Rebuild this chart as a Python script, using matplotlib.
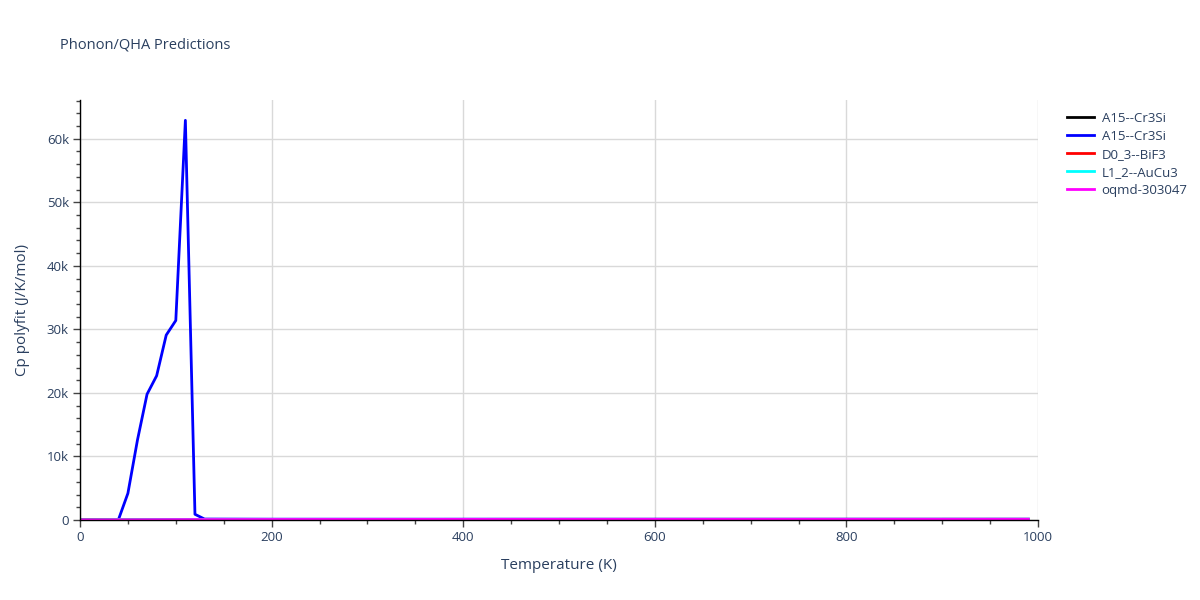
import matplotlib
matplotlib.use('Agg')
import matplotlib.pyplot as plt
from matplotlib.ticker import MultipleLocator, FuncFormatter

# temperatures (K) and Cp polyfit values (J/K/mol)
temp_coarse = [0, 50, 100, 150, 200, 300, 400, 500, 600, 700, 800, 900, 990]
cp_cr3si_black = [0, 20, 55, 75, 85, 94, 97, 99, 100, 101, 102, 103, 104]
cp_bif3 = [0, 30, 62, 78, 86, 93, 96, 98, 99, 100, 101, 101, 102]
cp_aucu3 = [0, 45, 78, 88, 92, 96, 98, 99, 100, 101, 102, 103, 104]
cp_oqmd = [0, 25, 60, 77, 86, 94, 97, 99, 100, 101, 102, 103, 104]

temp_blue = [0, 10, 20, 30, 40, 50, 60, 70, 80, 90, 100, 110, 120, 130,
             200, 300, 400, 500, 600, 700, 800, 900, 990]
cp_cr3si_blue = [0, 0, 0, 0, 0, 4200, 12600, 19800, 22700, 29100, 31400, 62900,
                 900, 150, 130, 130, 130, 130, 130, 130, 130, 130, 130]

series = [
    ('A15--Cr3Si', temp_coarse, cp_cr3si_black, 'black'),
    ('A15--Cr3Si', temp_blue, cp_cr3si_blue, 'blue'),
    ('D0_3--BiF3', temp_coarse, cp_bif3, 'red'),
    ('L1_2--AuCu3', temp_coarse, cp_aucu3, 'cyan'),
    ('oqmd-303047', temp_coarse, cp_oqmd, 'magenta'),
]

text_color = '#2a3f5f'
plt.rcParams['font.family'] = ['Open Sans', 'DejaVu Sans']

fig = plt.figure(figsize=(12, 6), dpi=100)
ax = fig.add_axes([80 / 1200, 80 / 600, 958 / 1200, 420 / 600])

for name, t, cp, color in series:
    ax.plot(t, cp, color=color, linewidth=2, label=name)

ax.set_xlim(0, 1000)
ax.set_ylim(0, 66100)

ax.xaxis.set_major_locator(MultipleLocator(200))
ax.xaxis.set_minor_locator(MultipleLocator(50))
ax.yaxis.set_major_locator(MultipleLocator(10000))
ax.yaxis.set_minor_locator(MultipleLocator(2000))
ax.yaxis.set_major_formatter(FuncFormatter(lambda v, p: '0' if v == 0 else f'{int(v / 1000)}k'))

ax.grid(True, which='major', color='#d9d9d9', linewidth=1)
ax.set_axisbelow(True)
for side in ['top', 'right']:
    ax.spines[side].set_visible(False)
for side in ['left', 'bottom']:
    ax.spines[side].set_color('black')
    ax.spines[side].set_linewidth(1)

ax.tick_params(which='major', direction='out', length=5, width=1, color='#444444',
               labelsize=9.5, labelcolor=text_color, pad=3)
ax.tick_params(which='minor', direction='out', length=3, width=1, color='#444444')

ax.set_xlabel('Temperature (K)', fontsize=11, color=text_color, labelpad=10)
ax.set_ylabel('Cp polyfit (J/K/mol)', fontsize=11, color=text_color, labelpad=12)

fig.text(60 / 1200, 1 - 45 / 600, 'Phonon/QHA Predictions', fontsize=10.5,
         color=text_color, va='center', ha='left')

leg = ax.legend(loc='upper left', bbox_to_anchor=(1.025, 0.985), frameon=False,
                fontsize=9.5, handlelength=2.0, handletextpad=0.6,
                labelspacing=0.38, borderaxespad=0)
for txt in leg.get_texts():
    txt.set_color(text_color)

fig.savefig('out.png', dpi=100, facecolor='white')
